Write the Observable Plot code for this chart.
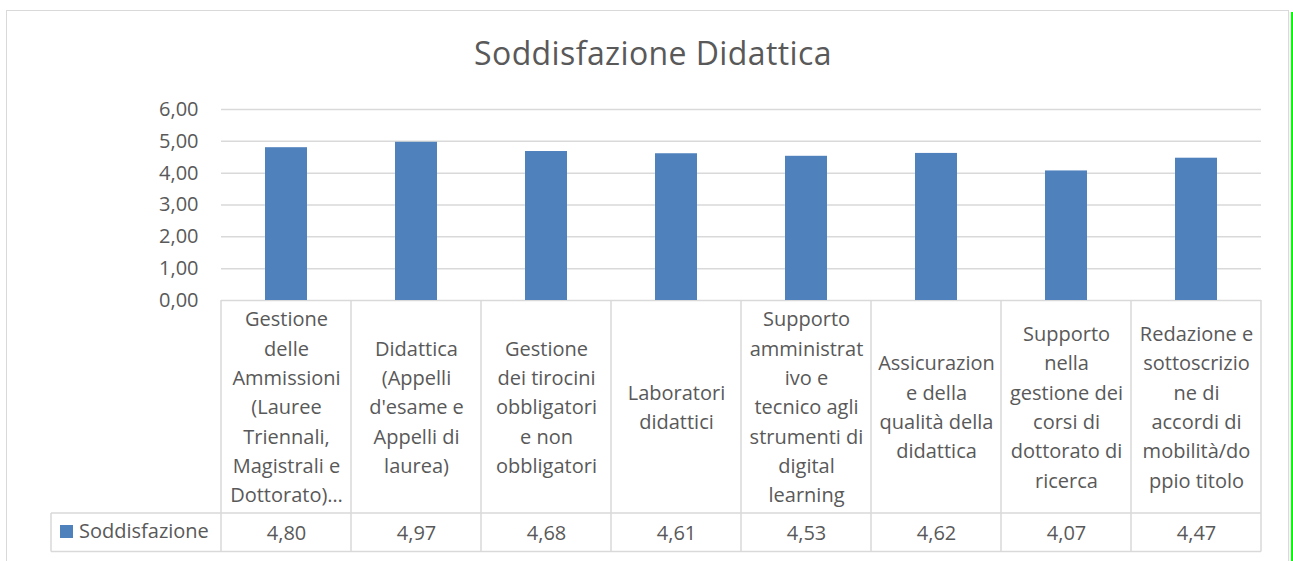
<!DOCTYPE html>
<html>
<head>
<meta charset="utf-8">
<script src="https://cdn.jsdelivr.net/npm/d3@7"></script>
<script src="https://cdn.jsdelivr.net/npm/@observablehq/plot@0.6"></script>
<style>
  body { margin: 0; background: #fff; width: 1293px; height: 561px; overflow: hidden; position: relative; }
  #frame { position: absolute; left: 6px; top: 10px; width: 1283px; height: 600px; border: 1.5px solid #d9d9d9; box-sizing: border-box; }
  #green { position: absolute; left: 1291px; top: 12px; width: 2px; height: 560px; background: #00ff00; }
  #title { position: absolute; left: 0; top: 33px; width: 1306px; text-align: center; font-family: "Open Sans", sans-serif; font-size: 32px; letter-spacing: 0.4px; line-height: 40px; color: #595959; }
  #chart { position: absolute; left: 0; top: 80px; }
</style>
</head>
<body>
<div id="frame"></div>
<div id="green"></div>
<div id="title">Soddisfazione Didattica</div>
<div id="chart"></div>
<script>
const categories = [
  "Gestione\ndelle\nAmmissioni\n(Lauree\nTriennali,\nMagistrali e\nDottorato)…",
  "Didattica\n(Appelli\nd'esame e\nAppelli di\nlaurea)",
  "Gestione\ndei tirocini\nobbligatori\ne non\nobbligatori",
  "Laboratori\ndidattici",
  "Supporto\namministrat\nivo e\ntecnico agli\nstrumenti di\ndigital\nlearning",
  "Assicurazion\ne della\nqualità della\ndidattica",
  "Supporto\nnella\ngestione dei\ncorsi di\ndottorato di\nricerca",
  "Redazione e\nsottoscrizio\nne di\naccordi di\nmobilità/do\nppio titolo"
];
const values = [4.80, 4.97, 4.68, 4.61, 4.53, 4.62, 4.07, 4.47];
const seriesName = "Soddisfazione";
const yTicks = [0, 1, 2, 3, 4, 5, 6];

const data = categories.map((c, i) => ({cat: c, value: values[i]}));
const fmt = v => v.toFixed(2).replace(".", ",");
const textColor = "#595959";
const gridColor = "#d9d9d9";
const barColor = "#4f81bd";

const chart = Plot.plot({
  width: 1293,
  height: 481,
  marginTop: 29,
  marginBottom: 261,
  marginLeft: 221,
  marginRight: 32,
  style: {fontFamily: "'Open Sans', sans-serif", fontSize: "20px", color: textColor, background: "transparent", overflow: "visible"},
  x: {domain: categories, padding: 0, axis: null},
  y: {domain: [0, 6], axis: null},
  marks: [
    Plot.gridY(yTicks, {stroke: gridColor, strokeOpacity: 1, strokeWidth: 1.5}),
    Plot.axisY(yTicks, {tickSize: 0, tickPadding: 23, tickFormat: fmt, fill: textColor, fontSize: 20, label: null}),
    Plot.barY(data, {x: "cat", y: "value", fill: barColor, insetLeft: 44, insetRight: 44}),
    Plot.text(data, {x: "cat", y: 0, dy: 104.5, text: "cat", lineHeight: 1.465, lineAnchor: "middle", fill: textColor, fontSize: 20}),
    Plot.text(data, {x: "cat", y: 0, dy: 233, text: d => fmt(d.value), fill: textColor, fontSize: 20})
  ]
});
document.getElementById("chart").appendChild(chart);

// data-table borders and legend key, positioned from the plot's own scales
const svg = d3.select(chart);
const xs = chart.scale("x");
const ys = chart.scale("y");
const bw = xs.bandwidth;
const y0 = ys.apply(0);
const rowMid = y0 + 213;
const rowBot = y0 + 251.5;
const xRight = xs.apply(categories[categories.length - 1]) + bw;
const g = svg.append("g").attr("stroke", gridColor).attr("stroke-width", 1.5);
const bounds = categories.map(c => xs.apply(c)).concat([xRight]);
bounds.forEach(bx => g.append("line").attr("x1", bx).attr("x2", bx).attr("y1", y0).attr("y2", rowBot));
const tableLeft = 51;
g.append("line").attr("x1", tableLeft).attr("x2", xRight).attr("y1", rowMid).attr("y2", rowMid);
g.append("line").attr("x1", tableLeft).attr("x2", xRight).attr("y1", rowBot).attr("y2", rowBot);
g.append("line").attr("x1", tableLeft).attr("x2", tableLeft).attr("y1", rowMid).attr("y2", rowBot);
svg.append("rect").attr("x", 60).attr("y", rowMid + 12).attr("width", 13).attr("height", 13).attr("fill", barColor);
svg.append("text").attr("x", 79).attr("y", rowMid + 19).attr("dy", "0.32em")
  .attr("text-anchor", "start").attr("fill", textColor).attr("font-size", 20).text(seriesName);
</script>
</body>
</html>
